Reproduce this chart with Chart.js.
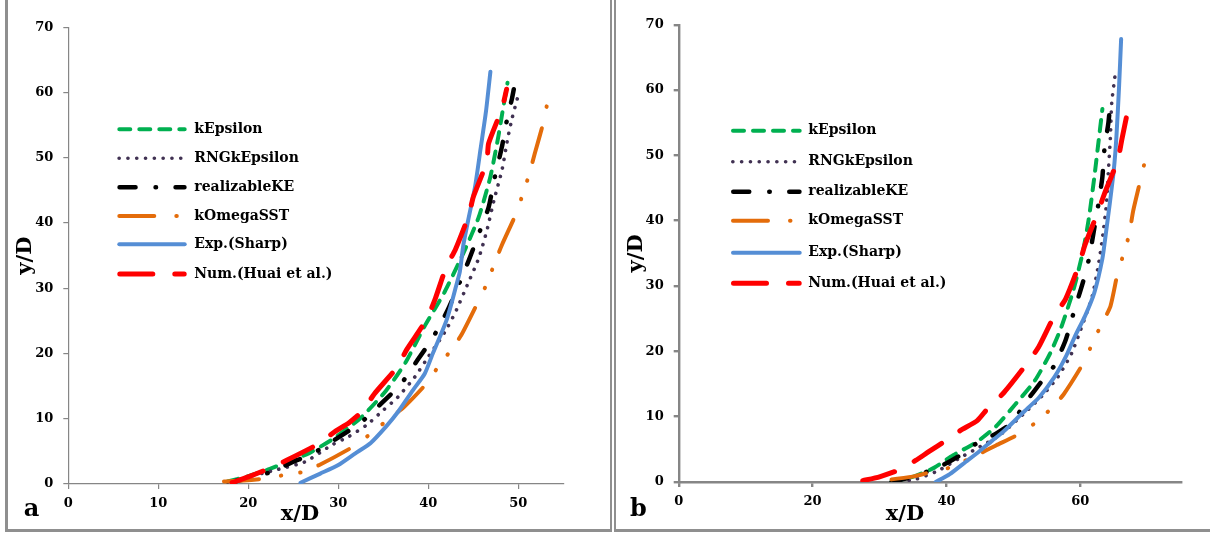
<!DOCTYPE html>
<html><head><meta charset="utf-8">
<script src="https://cdn.jsdelivr.net/npm/chart.js@4.4.1/dist/chart.umd.min.js"></script>
<style>
html,body{margin:0;padding:0;background:#fff;}
#wrap{position:relative;width:1210px;height:533px;overflow:hidden;background:#fff}
canvas{position:absolute;top:0}
.f{position:absolute;background:#8f8f8f}
</style></head><body>
<div id="wrap">
<canvas id="ca" width="605" height="533" style="left:0;width:605px;height:533px"></canvas>
<canvas id="cb" width="605" height="533" style="left:605px;width:605px;height:533px"></canvas>
<div class="f" style="left:5px;top:0;width:3px;height:532px"></div>
<div class="f" style="left:5px;top:529px;width:607px;height:3px"></div>
<div class="f" style="left:610px;top:0;width:2px;height:532px"></div>
<div class="f" style="left:614px;top:0;width:2px;height:532px"></div>
<div class="f" style="left:614px;top:529px;width:596px;height:3px"></div>
</div>
<script>
// ---------- series names ----------
const seriesLabels = ['kEpsilon','RNGkEpsilon','realizableKE','kOmegaSST','Exp.(Sharp)','Num.(Huai et al.)'];

// ---------- axis tick labels ----------
const aXTicks = [0,10,20,30,40,50];
const bXTicks = [0,20,40,60];
const yTicks = [0,10,20,30,40,50,60,70];

// ---------- panel a data ----------
const aKEpsX = [17.7,20,22.4,24.5,26.7,29.3,31,32.7,35.3,37.5,39.6,41.8,43.9,45.6,46.9,47.8,48.3,48.8];
const aKEpsY = [0.4,1.2,2.3,3.5,4.7,6.8,8.5,10.4,14.3,18.7,24.2,29.4,35.4,40.9,47.1,53.4,57.5,61.5];

const aRngX = [17.7,20,22.9,26.3,29.3,31.2,33.2,34.9,36.6,38.5,40.0,41.8,43.0,44.3,45.6,46.5,47.3,48.2,48.8,49.3,49.9];
const aRngY = [0.3,1.1,2.1,3.4,6.0,7.3,9.1,11.2,13.3,16.4,19.5,23.2,26.3,30.4,34.6,38.8,43.5,48.2,52.8,56.0,59.1];

const aRealX = [18.2,20.5,22.4,25.0,27.2,30.2,32.5,34.9,37.0,38.8,40.5,42.2,44.3,45.6,46.7,47.3,48.2,48.6,49.3,49.5];
const aRealY = [0.3,1.0,1.8,3.4,4.7,7.3,9.4,12.5,15.4,19.0,22.4,26.8,33.6,38.3,42.4,46.5,51.8,54.9,59.1,60.5];

const aSstX = [17.3,19.5,21.6,23.7,25.9,28.0,31.5,33.4,35.1,37.3,39.8,41.1,42.4,43.7,45.6,46.5,47.3,48.2,49.9,50.5,51.2,51.8,52.9,53.3];
const aSstY = [0.4,0.55,0.8,1.3,1.8,3.0,5.6,7.5,9.4,11.8,15.4,18.0,20.3,22.9,28.1,30.7,33.6,36.7,41.9,44.5,47.4,50.5,56.0,59.1];

const aExpX = [25.8,28.0,30.0,31.9,33.6,35.3,36.6,38.3,39.6,40.5,41.3,42.0,42.5,43.0,43.5,43.9,44.5,45.2,45.8,46.4,46.9];
const aExpY = [0.2,1.6,2.9,4.7,6.3,8.8,11.0,14.4,16.9,20.0,22.6,25.0,27.3,29.9,32.5,36.7,40.9,45.6,51.3,57.0,63.2];

const aNumX = [18.2,20,22.0,24.2,27.6,29.7,31.2,32.7,34.0,36.6,37.6,39.8,40.8,42.0,43.0,44.5,45.0,46.5,46.7,48.2,48.7];
const aNumY = [0.2,1.1,2.2,3.6,6.0,8.1,9.4,11.2,13.8,18.0,20.6,25.2,28.5,33.3,35.9,41.2,44.0,49.4,52.2,57.6,60.5];

// ---------- panel b data ----------
const bKEpsX = [31.8,35.3,38.2,41.0,44.5,47.4,50.3,53.2,55.5,57.2,59.0,60.4,61.3,62.1,62.7,63.3];
const bKEpsY = [0,0.9,2.2,4.1,6.1,8.5,11.9,15.5,19.7,23.8,29.5,35.3,40.5,46.7,51.9,57.1];

const bRngX = [31.8,35.3,38.7,42.2,44.5,48.0,51.4,54.3,56.6,58.7,60.4,61.8,62.7,63.3,63.9,64.2,64.5,64.7,65.2];
const bRngY = [0,0.4,1.7,3.8,5.1,7.2,10.3,13.2,16.0,19.7,24.3,28.5,33.2,37.3,42.5,47.7,52.9,58.1,62.3];

const bRealX = [31.8,35.3,39.3,41.6,44.5,47.4,49.7,52.0,54.3,56.1,57.8,59.0,60.4,61.3,62.1,62.7,63.3,63.6,64.2,64.4];
const bRealY = [0,0.9,2.5,3.8,5.9,7.4,9.0,12.4,15.5,17.8,21.7,25.9,30.6,34.2,38.9,42.5,46.7,50.9,55.0,57.0];

const bSstX = [31.8,35.3,37.6,40.5,44.5,47.4,50.6,53.2,55.5,57.5,60.4,61.8,63.0,64.5,65.6,66.5,67.3,67.9,69.1,69.7];
const bSstY = [0.4,0.9,1.5,2.2,4.1,5.6,7.2,9.0,11.1,13.4,18.1,21.2,23.8,26.9,32.1,35.0,37.9,41.5,46.7,49.3];

const bExpX = [38.4,40.5,42.9,44.8,46.8,48.6,51.4,53.8,56.1,57.8,59.2,60.7,62.1,63.3,63.8,64.4,65.0,65.4,65.8,66.1];
const bExpY = [0,1.2,3.1,4.6,6.3,7.8,10.6,12.9,16.0,19.1,22.3,25.4,29.0,34.2,37.9,42.6,47.7,52.9,60.7,67.8];

const bNumX = [27.5,30,32.8,35.4,37.3,40.0,42.1,44.6,46.2,48.6,52.0,53.8,56.1,57.8,59.8,60.7,62.7,63.6,65.6,66.2,67.3];
const bNumY = [0.2,0.8,1.8,3.3,4.6,6.4,7.9,9.4,11.3,13.7,18.1,20.7,25.4,28.0,33.2,36.3,41.5,44.1,49.3,52.4,57.9];

// ---------- styles ----------
const seriesColors = ['#00b050','#403152','#000000','#e46c0a','#558ed5','#ff0000'];
const seriesWidths = [4,3.6,4.5,4,4,5];
const seriesDashes = [[11,9],[0.1,8.7],[16,20,0.5,19.5],[35,22,0.5,19,0.5,19],[],[33,22]];

function pts(xs, ys){ return xs.map((x,i)=>({x:x, y:ys[i]})); }

function makeDatasets(list){
  return list.map((pair,i)=>({
    label: seriesLabels[i],
    data: pts(pair[0], pair[1]),
    borderColor: seriesColors[i],
    backgroundColor: seriesColors[i],
    borderWidth: seriesWidths[i],
    borderDash: seriesDashes[i],
    borderCapStyle: 'round',
    borderJoinStyle: 'round',
    pointRadius: 0,
    tension: 0.2,
    fill: false,
    order: 6 - i
  }));
}

const overlay = {
  id: 'overlay',
  afterDatasetsDraw(chart, args, o){
    const ctx = chart.ctx;
    ctx.save();
    chart.data.datasets.forEach((ds,i)=>{
      const y = o.rows[i];
      const w = ds.borderWidth/2;
      ctx.beginPath();
      ctx.strokeStyle = ds.borderColor;
      ctx.lineWidth = ds.borderWidth;
      ctx.lineCap = 'round';
      ctx.setLineDash(ds.borderDash || []);
      ctx.moveTo(o.sx0 + w, y);
      ctx.lineTo(o.sx1 - w, y);
      ctx.stroke();
      ctx.setLineDash([]);
      ctx.fillStyle = '#000';
      ctx.font = 'bold 14px "DejaVu Serif"';
      ctx.textBaseline = 'middle';
      ctx.textAlign = 'left';
      ctx.fillText(ds.label, o.tx, y);
    });
    ctx.fillStyle = '#000';
    ctx.textAlign = 'center';
    ctx.textBaseline = 'middle';
    ctx.font = 'bold 21px "DejaVu Serif"';
    ctx.fillText(o.xTitle, o.xtX, o.xtY);
    ctx.font = 'bold 24px "DejaVu Serif"';
    ctx.fillText(o.panel, o.pX, o.pY);
    ctx.restore();
  }
};

function makeChart(id, list, cfg){
  const tickFont = {family:'DejaVu Serif', size:13, weight:'bold'};
  return new Chart(document.getElementById(id), {
    type: 'line',
    data: { datasets: makeDatasets(list) },
    plugins: [overlay],
    options: {
      responsive: false,
      animation: false,
      devicePixelRatio: 1,
      layout: { padding: { left: 0, top: cfg.padTop, right: cfg.padRight, bottom: 0 } },
      plugins: {
        legend: { display: false },
        tooltip: { enabled: false },
        overlay: cfg.overlay
      },
      scales: {
        x: {
          type: 'linear', min: 0, max: cfg.xMax,
          afterFit: s => { s.height = cfg.xH; },
          afterBuildTicks: s => { s.ticks = cfg.xTicks.map(v => ({value: v})); },
          ticks: { stepSize: cfg.xStep, color:'#000', font: tickFont, padding: 7, maxRotation: 0 },
          grid: { drawOnChartArea: false, drawTicks: true, tickLength: 5, color:'#868686', lineWidth: cfg.lw },
          border: { display: true, color:'#868686', width: cfg.lw }
        },
        y: {
          type: 'linear', min: 0, max: 70,
          afterFit: s => { s.width = cfg.yW; },
          afterBuildTicks: s => { s.ticks = yTicks.map(v => ({value: v})); },
          ticks: { stepSize: 10, color:'#000', font: tickFont, padding: 10 },
          grid: { drawOnChartArea: false, drawTicks: true, tickLength: 5, color:'#868686', lineWidth: cfg.lw },
          border: { display: true, color:'#868686', width: cfg.lw },
          title: { display: true, text: 'y/D', color:'#000',
                   font: {family:'DejaVu Serif', size:21, weight:'bold'},
                   padding: { top: cfg.ytPad, bottom: 0 } }
        }
      }
    }
  });
}

makeChart('ca', [[aKEpsX,aKEpsY],[aRngX,aRngY],[aRealX,aRealY],[aSstX,aSstY],[aExpX,aExpY],[aNumX,aNumY]], {
  padTop: 27.3, padRight: 41.7, xH: 49, yW: 68.3, xMax: 55, xStep: 10, xTicks: aXTicks, lw: 1.2, ytPad: 13,
  overlay: { rows: [129.3,158.3,187.3,216,244.3,274], sx0: 117.3, sx1: 186.7, tx: 194.3,
             xTitle: 'x/D', xtX: 300, xtY: 515, panel: 'a', pX: 31.5, pY: 510 }
});

makeChart('cb', [[bKEpsX,bKEpsY],[bRngX,bRngY],[bRealX,bRealY],[bSstX,bSstY],[bExpX,bExpY],[bNumX,bNumY]], {
  padTop: 24.7, padRight: 29.3, xH: 51, yW: 73.7, xMax: 75, xStep: 20, xTicks: bXTicks, lw: 2.4, ytPad: 19,
  overlay: { rows: [130.7,161.7,191.7,220.7,252.7,283.3], sx0: 126, sx1: 196.7, tx: 203.3,
             xTitle: 'x/D', xtX: 300, xtY: 515, panel: 'b', pX: 33.5, pY: 510 }
});
</script>
</body></html>
